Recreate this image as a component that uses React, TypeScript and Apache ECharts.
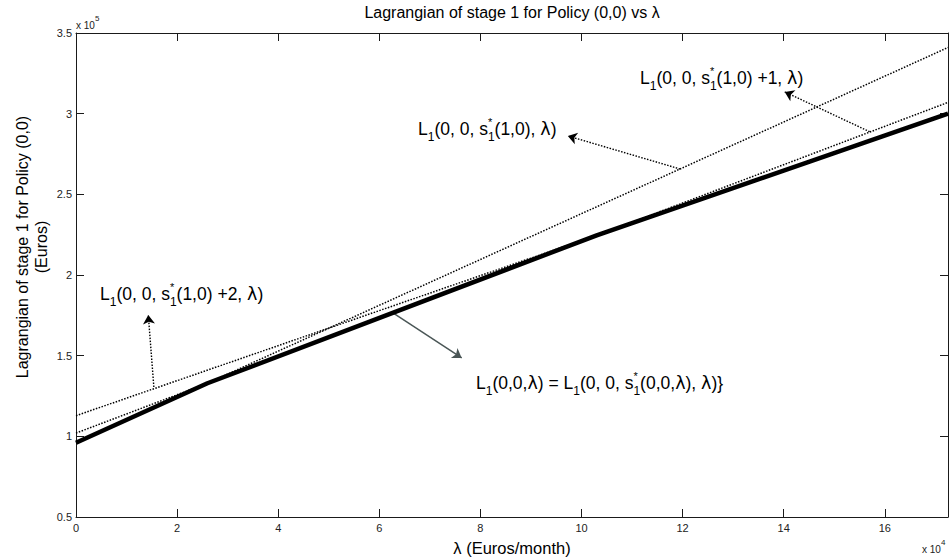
import React, { useEffect, useRef } from "react";
import * as echarts from "echarts";

// λ in units of 10^4 Euros/month, Lagrangian in units of 10^5 Euros
const lambdaRange = [0, 17.25];
const valueRange = [0.5, 3.5];
const lambdaEnds = [0, 17.25];
const lineS10 = [0.96, 3.41]; // L1(0,0,s*1(1,0),λ)
const lineS10p1 = [1.02, 3.07]; // L1(0,0,s*1(1,0)+1,λ)
const lineS10p2 = [1.128, 3.0]; // L1(0,0,s*1(1,0)+2,λ)
const envLambda = [0, 2.6, 10.3, 17.25];
const envValue = [0.96, 1.329, 2.246, 3.0]; // L1(0,0,λ)

// annotation arrows [from, to] in data coordinates
const arrowS10 = [[11.95, 2.657], [9.73, 2.862]];
const arrowP1 = [[15.7, 2.888], [14.02, 3.135]];
const arrowP2 = [[1.54, 1.306], [1.43, 1.752]];
const arrowEnv = [[6.27, 1.766], [7.63, 1.486]];

const FONT = "'Liberation Sans', Arial, Helvetica, sans-serif";
const AFS = 17.5;

const richStyles = {
  m: { fontSize: AFS, fontFamily: FONT, lineHeight: 30, verticalAlign: "middle", fill: "#000" },
  g: { fontSize: AFS, fontFamily: "'DejaVu Sans', sans-serif", lineHeight: 30, verticalAlign: "middle", fill: "#000" },
  sub: { fontSize: 12, fontFamily: FONT, lineHeight: 12, verticalAlign: "bottom", padding: [0, 0, 1, 0], fill: "#000" },
  sup: { fontSize: 11, fontFamily: FONT, lineHeight: 11, verticalAlign: "top", padding: [2, 0, 0, 0], width: 0, fill: "#000" },
};

function pairs(xs: number[], ys: number[]) {
  return xs.map((x, i) => [x, ys[i]]);
}

function annot(x: number, y: number, text: string) {
  return {
    type: "text",
    x,
    y,
    style: {
      text,
      align: "left",
      verticalAlign: "middle",
      fontSize: AFS,
      fontFamily: FONT,
      lineHeight: 30,
      fill: "#000",
      rich: richStyles,
    },
  };
}

export default function App() {
  const ref = useRef<HTMLDivElement>(null);
  useEffect(() => {
    if (!ref.current) return;
    const chart = echarts.init(ref.current, null, { renderer: "svg" });
    const axisCommon = {
      type: "value" as const,
      axisLine: { show: true, onZero: false, lineStyle: { color: "#1a1a1a", width: 1 } },
      axisTick: { show: true, inside: true, length: 8, lineStyle: { color: "#1a1a1a" } },
      splitLine: { show: false },
    };
    const dotted = { color: "#000", width: 1.5, type: [1.5, 1.5] as any };
    const arrow = (a: number[][], color: string, type: any, width: number) => [
      { coord: a[0], lineStyle: { color, type, width }, itemStyle: { color } },
      { coord: a[1] },
    ];
    chart.setOption({
      animation: false,
      backgroundColor: "#fff",
      grid: { left: 76, right: 3, top: 33, bottom: 43, containLabel: false },
      xAxis: [
        {
          ...axisCommon,
          min: lambdaRange[0],
          max: lambdaRange[1],
          interval: 2,
          position: "bottom",
          axisLabel: { show: true, showMaxLabel: false, margin: 5, fontSize: 11, color: "#222", fontFamily: FONT },
        },
        {
          ...axisCommon,
          min: lambdaRange[0],
          max: lambdaRange[1],
          interval: 2,
          position: "top",
          axisLabel: { show: false },
        },
      ],
      yAxis: [
        {
          ...axisCommon,
          min: valueRange[0],
          max: valueRange[1],
          interval: 0.5,
          position: "left",
          axisLabel: { show: true, margin: 4, fontSize: 11, color: "#222", fontFamily: FONT },
        },
        {
          ...axisCommon,
          min: valueRange[0],
          max: valueRange[1],
          interval: 0.5,
          position: "right",
          axisLabel: { show: false },
        },
      ],
      series: [
        {
          type: "line",
          data: pairs(lambdaEnds, lineS10),
          symbol: "none",
          lineStyle: dotted,
          silent: true,
          markLine: {
            silent: true,
            symbol: ["none", "arrow"],
            symbolSize: 9,
            label: { show: false },
            lineStyle: { color: "#000", type: [1.5, 1.5], width: 1.4 },
            data: [
              arrow(arrowS10, "#000", [1.5, 1.5], 1.4),
              arrow(arrowP1, "#000", [1.5, 1.5], 1.4),
              arrow(arrowP2, "#000", [1.5, 1.5], 1.4),
              arrow(arrowEnv, "#4a5656", "solid", 1.5),
            ],
          },
        },
        { type: "line", data: pairs(lambdaEnds, lineS10p1), symbol: "none", lineStyle: dotted, silent: true },
        { type: "line", data: pairs(lambdaEnds, lineS10p2), symbol: "none", lineStyle: dotted, silent: true },
        {
          type: "line",
          data: pairs(envLambda, envValue),
          symbol: "none",
          lineStyle: { color: "#000", width: 4.5 },
          silent: true,
          z: 5,
        },
      ],
      graphic: [
        {
          type: "text",
          x: 512,
          y: 12,
          style: { text: "Lagrangian of stage 1 for Policy (0,0) vs λ", align: "center", verticalAlign: "middle", fontSize: 16, fontFamily: FONT, fill: "#000" },
        },
        {
          type: "text",
          x: 512,
          y: 548,
          style: { text: "λ (Euros/month)", align: "center", verticalAlign: "middle", fontSize: 16.5, fontFamily: FONT, fill: "#000" },
        },
        {
          type: "text",
          x: 32,
          y: 247,
          rotation: Math.PI / 2,
          style: { text: "Lagrangian of stage 1 for Policy (0,0)\n(Euros)", align: "center", verticalAlign: "middle", fontSize: 16, lineHeight: 19, fontFamily: FONT, fill: "#000" },
        },
        {
          type: "text",
          x: 76,
          y: 22,
          style: {
            text: "{a|x 10}{b|5}",
            align: "left",
            verticalAlign: "middle",
            rich: {
              a: { fontSize: 10, fontFamily: FONT, fill: "#222", lineHeight: 16, verticalAlign: "bottom" },
              b: { fontSize: 8, fontFamily: FONT, fill: "#222", lineHeight: 8, verticalAlign: "top" },
            },
          },
        },
        {
          type: "text",
          x: 922,
          y: 546,
          style: {
            text: "{a|x 10}{b|4}",
            align: "left",
            verticalAlign: "middle",
            rich: {
              a: { fontSize: 10, fontFamily: FONT, fill: "#222", lineHeight: 16, verticalAlign: "bottom" },
              b: { fontSize: 8, fontFamily: FONT, fill: "#222", lineHeight: 8, verticalAlign: "top" },
            },
          },
        },
        annot(640, 78, "{m|L}{sub|1}{m|(0, 0, s}{sup|*}{sub|1}{m|(1,0) +1, }{g|λ}{m|)}"),
        annot(418, 129, "{m|L}{sub|1}{m|(0, 0, s}{sup|*}{sub|1}{m|(1,0), }{g|λ}{m|)}"),
        annot(100, 294, "{m|L}{sub|1}{m|(0, 0, s}{sup|*}{sub|1}{m|(1,0) +2, }{g|λ}{m|)}"),
        annot(476, 383, "{m|L}{sub|1}{m|(0,0,}{g|λ}{m|) = L}{sub|1}{m|(0, 0, s}{sup|*}{sub|1}{m|(0,0,}{g|λ}{m|), }{g|λ}{m|)}}"),
      ],
    });
    return () => chart.dispose();
  }, []);
  return <div ref={ref} style={{ position: "fixed", left: 0, top: 0, width: 951, height: 560, background: "#fff" }} />;
}
